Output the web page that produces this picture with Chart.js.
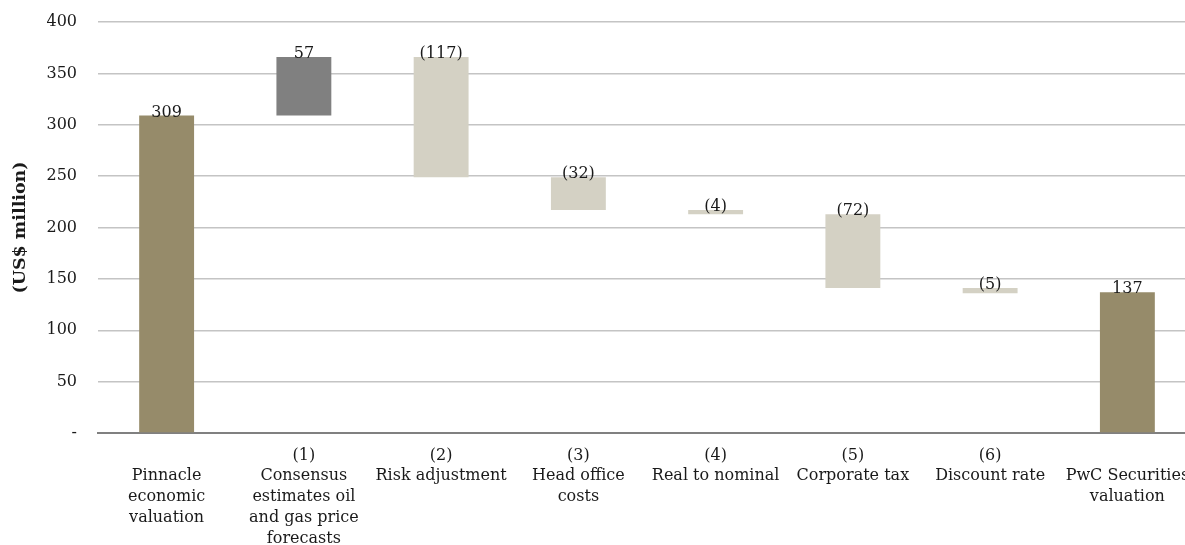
<!DOCTYPE html>
<html>
<head>
<meta charset="utf-8">
<script src="https://cdn.jsdelivr.net/npm/chart.js@4.4.1/dist/chart.umd.min.js"></script>
<style>
  html, body { margin: 0; padding: 0; background: #fff; overflow: hidden; }
  #wrap { width: 1196px; height: 545px; }
</style>
</head>
<body>
<div id="wrap"><canvas id="bridgeChart"></canvas></div>
<script>
// Valuation bridge (US$ million)
const categories = [
    ['', 'Pinnacle', 'economic', 'valuation'],
    ['(1)', 'Consensus', 'estimates oil', 'and gas price', 'forecasts'],
    ['(2)', 'Risk adjustment'],
    ['(3)', 'Head office', 'costs'],
    ['(4)', 'Real to nominal'],
    ['(5)', 'Corporate tax'],
    ['(6)', 'Discount rate'],
    ['', 'PwC Securities', 'valuation']
];
const startValue = 309;
const steps = [57, -117, -32, -4, -72, -5];
const endValue = 137;
const yTicks = [0, 50, 100, 150, 200, 250, 300, 350, 400];

const COL_TOTAL = '#968b6a';
const COL_UP = '#808080';
const COL_DOWN = '#d4d1c4';
const FONT = '"DejaVu Serif", "Liberation Serif", serif';

// floating bars: [low, high]
const bars = [[0, startValue]];
const colors = [COL_TOTAL];
const labels = [String(startValue)];
let run = startValue;
steps.forEach(v => {
    const next = run + v;
    bars.push([Math.min(run, next), Math.max(run, next)]);
    colors.push(v >= 0 ? COL_UP : COL_DOWN);
    labels.push(v >= 0 ? String(v) : '(' + Math.abs(v) + ')');
    run = next;
});
bars.push([0, endValue]);
colors.push(COL_TOTAL);
labels.push(String(endValue));

// value labels sitting on top of each bar
const barLabels = {
    id: 'barLabels',
    afterDatasetsDraw(chart) {
        const ctx = chart.ctx;
        const meta = chart.getDatasetMeta(0);
        ctx.save();
        ctx.font = '16px ' + FONT;
        ctx.fillStyle = '#1a1a1a';
        ctx.textAlign = 'center';
        ctx.textBaseline = 'alphabetic';
        meta.data.forEach((bar, i) => {
            const top = Math.min(bar.y, bar.base);
            ctx.fillText(labels[i], bar.x, top + 1);
        });
        ctx.restore();
    }
};

const ctx = document.getElementById('bridgeChart').getContext('2d');
const bridgeChart = new Chart(ctx, {
    type: 'bar',
    data: {
        labels: categories,
        datasets: [{
            data: bars,
            backgroundColor: colors,
            borderWidth: 0,
            barPercentage: 0.8,
            categoryPercentage: 0.5,
            borderSkipped: false
        }]
    },
    options: {
        responsive: true,
        maintainAspectRatio: false,
        animation: false,
        layout: { padding: { top: 22, right: 0, bottom: 0, left: 0 } },
        plugins: {
            legend: { display: false },
            tooltip: { enabled: false }
        },
        scales: {
            x: {
                grid: { display: false, drawTicks: false },
                border: { display: true, color: '#808080', width: 2 },
                ticks: {
                    color: '#1a1a1a',
                    font: { family: FONT, size: 16, lineHeight: 1.3 },
                    padding: 12,
                    maxRotation: 0,
                    autoSkip: false
                },
                afterFit(scale) {
                    scale.height = 112;
                    scale.paddingLeft = 0;
                    scale.paddingRight = 0;
                }
            },
            y: {
                min: 0,
                max: 400,
                afterBuildTicks(scale) {
                    scale.ticks = yTicks.map(v => ({ value: v }));
                },
                grid: { color: '#c4c4c4', lineWidth: 1.5, drawTicks: false },
                border: { display: false },
                ticks: {
                    color: '#1a1a1a',
                    font: { family: FONT, size: 16 },
                    padding: 21,
                    callback: v => (v === 0 ? '-' : v)
                },
                title: {
                    display: true,
                    text: '(US$ million)',
                    color: '#1a1a1a',
                    font: { family: FONT, size: 17.5, weight: 'bold' },
                    padding: { top: 10, bottom: 0 }
                },
                afterFit(scale) {
                    scale.width = 98;
                    scale.paddingTop = 0;
                    scale.paddingBottom = 0;
                }
            }
        }
    },
    plugins: [barLabels]
});
</script>
</body>
</html>
